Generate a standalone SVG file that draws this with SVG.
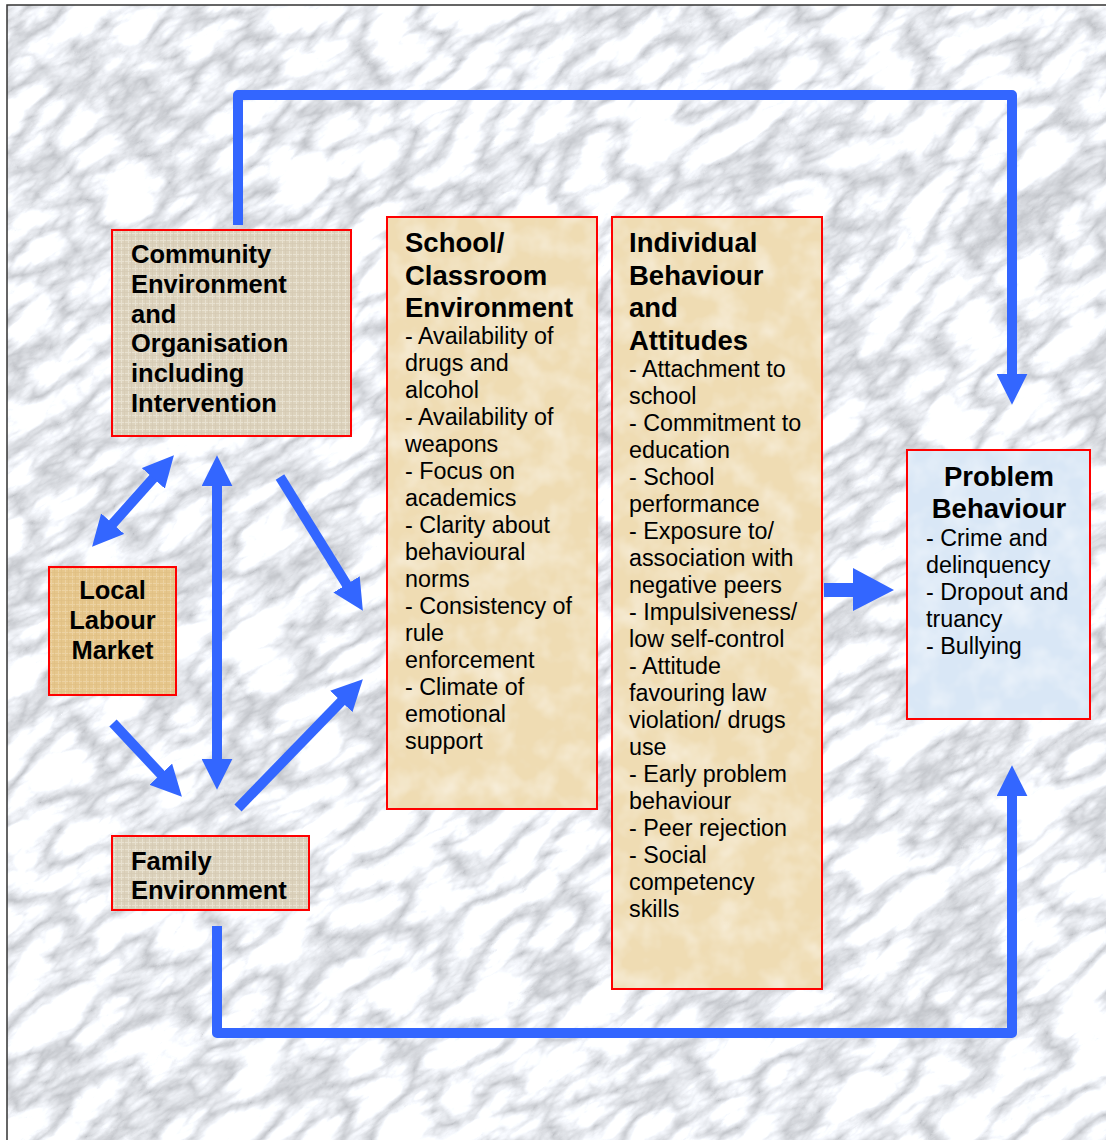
<svg xmlns="http://www.w3.org/2000/svg" width="1106" height="1140" viewBox="0 0 1106 1140">
<style>
  .box { fill: none; stroke: #ff0000; stroke-width: 2; }
  .t { font-family: "Liberation Sans", Arial, sans-serif; fill: #000; }
  .h { font-weight: bold; font-size: 27.5px; }
  .hs { font-weight: bold; font-size: 25.5px; }
  .b { font-size: 23.3px; }
  .conn { fill: none; stroke: #3366ff; stroke-width: 10; stroke-linejoin: round; }
</style>
<defs>
  <clipPath id="frame"><rect x="7" y="5" width="1110" height="1150"/></clipPath>
  <filter id="marble" x="0" y="0" width="100%" height="100%" color-interpolation-filters="sRGB">
    <feTurbulence type="turbulence" baseFrequency="0.013 0.03" numOctaves="5" seed="7" result="t"/>
    <feColorMatrix in="t" type="matrix" values="0.62 0 0 0 0.74  0.62 0 0 0 0.75  0.62 0 0 0 0.77  0 0 0 0 1"/>
  </filter>
  <filter id="paper" x="0" y="0" width="100%" height="100%" color-interpolation-filters="sRGB">
    <feTurbulence type="fractalNoise" baseFrequency="0.035" numOctaves="3" seed="5" result="n"/>
    <feColorMatrix in="n" type="matrix" values="0 0 0 0 1  0 0 0 0 1  0 0 0 0 1  0.9 0 0 0 -0.35" result="w"/>
    <feComposite in="w" in2="SourceGraphic" operator="in" result="wi"/>
    <feMerge><feMergeNode in="SourceGraphic"/><feMergeNode in="wi"/></feMerge>
  </filter>
  <pattern id="linen" width="7" height="7" patternUnits="userSpaceOnUse">
    <rect width="7" height="7" fill="#dcd2bc"/>
    <path d="M0,2.5 H7 M2.5,0 V7" stroke="#e8e1d0" stroke-width="1"/>
    <path d="M0,5.5 H7 M5.5,0 V7" stroke="#d5cab3" stroke-width="0.7"/>
  </pattern>
  <pattern id="linenTan" width="7" height="7" patternUnits="userSpaceOnUse">
    <rect width="7" height="7" fill="#e6c68b"/>
    <path d="M0,2.5 H7 M2.5,0 V7" stroke="#ecd2a2" stroke-width="1"/>
    <path d="M0,5.5 H7 M5.5,0 V7" stroke="#dfbe84" stroke-width="0.7"/>
  </pattern>
  <marker id="ah" viewBox="0 0 10 10" refX="2" refY="5" markerWidth="3.1" markerHeight="3.1" orient="auto-start-reverse">
    <path d="M0,0 L10,5 L0,10 z" fill="#3366ff"/>
  </marker>
</defs>

<rect width="1106" height="1140" fill="#ffffff"/>
<g clip-path="url(#frame)">
  <g transform="rotate(-35 553 570)">
    <rect x="-500" y="-500" width="2100" height="2140" filter="url(#marble)"/>
  </g>
</g>
<rect x="7" y="5" width="1110" height="1150" fill="none" stroke="#333" stroke-width="1.5"/>

<g id="connectors">
  <path class="conn" d="M238,225 V95 H1012 V380" marker-end="url(#ah)"/>
  <path class="conn" d="M217,926 V1033 H1012 V790" marker-end="url(#ah)"/>
  <line class="conn" x1="108.6" y1="528.3" x2="157.4" y2="473.7" marker-start="url(#ah)" marker-end="url(#ah)"/>
  <line class="conn" x1="217" y1="480" x2="217" y2="765" marker-start="url(#ah)" marker-end="url(#ah)"/>
  <line class="conn" x1="280" y1="477" x2="349.8" y2="589.7" marker-end="url(#ah)"/>
  <line class="conn" x1="113" y1="723" x2="165" y2="778.7" marker-end="url(#ah)"/>
  <line class="conn" x1="238" y1="808" x2="345.6" y2="697" marker-end="url(#ah)"/>
  <polygon points="824,583 853,583 853,568 894,590 853,611 853,597 824,597" fill="#3366ff"/>
</g>

<g id="community">
  <rect x="112" y="230" width="239" height="206" fill="url(#linen)"/>
  <rect class="box" x="112" y="230" width="239" height="206"/>
  <text class="t hs" x="131" y="263">Community</text>
  <text class="t hs" x="131" y="293">Environment</text>
  <text class="t hs" x="131" y="322.5">and</text>
  <text class="t hs" x="131" y="352">Organisation</text>
  <text class="t hs" x="131" y="382">including</text>
  <text class="t hs" x="131" y="412">Intervention</text>
</g>

<g id="labour">
  <rect x="49" y="567" width="127" height="128" fill="url(#linenTan)"/>
  <rect class="box" x="49" y="567" width="127" height="128"/>
  <text class="t hs" x="112.5" y="599" text-anchor="middle">Local</text>
  <text class="t hs" x="112.5" y="629" text-anchor="middle">Labour</text>
  <text class="t hs" x="112.5" y="659" text-anchor="middle">Market</text>
</g>

<g id="family">
  <rect x="112" y="836" width="197" height="74" fill="url(#linen)"/>
  <rect class="box" x="112" y="836" width="197" height="74"/>
  <text class="t hs" x="131" y="870">Family</text>
  <text class="t hs" x="131" y="899">Environment</text>
</g>

<g id="school">
  <rect x="387" y="217" width="210" height="592" fill="#efdcb3" filter="url(#paper)"/>
  <rect class="box" x="387" y="217" width="210" height="592"/>
  <text class="t h" x="405" y="252">School/</text>
  <text class="t h" x="405" y="284.5">Classroom</text>
  <text class="t h" x="405" y="317">Environment</text>
  <text class="t b" x="405" y="344">- Availability of</text>
  <text class="t b" x="405" y="371">drugs and</text>
  <text class="t b" x="405" y="398">alcohol</text>
  <text class="t b" x="405" y="425">- Availability of</text>
  <text class="t b" x="405" y="452">weapons</text>
  <text class="t b" x="405" y="479">- Focus on</text>
  <text class="t b" x="405" y="506">academics</text>
  <text class="t b" x="405" y="533">- Clarity about</text>
  <text class="t b" x="405" y="560">behavioural</text>
  <text class="t b" x="405" y="587">norms</text>
  <text class="t b" x="405" y="614">- Consistency of</text>
  <text class="t b" x="405" y="641">rule</text>
  <text class="t b" x="405" y="668">enforcement</text>
  <text class="t b" x="405" y="695">- Climate of</text>
  <text class="t b" x="405" y="722">emotional</text>
  <text class="t b" x="405" y="749">support</text>
</g>

<g id="individual">
  <rect x="612" y="217" width="210" height="772" fill="#efdcb3" filter="url(#paper)"/>
  <rect class="box" x="612" y="217" width="210" height="772"/>
  <text class="t h" x="629" y="252">Individual</text>
  <text class="t h" x="629" y="284.5">Behaviour</text>
  <text class="t h" x="629" y="317">and</text>
  <text class="t h" x="629" y="349.5">Attitudes</text>
  <text class="t b" x="629" y="377">- Attachment to</text>
  <text class="t b" x="629" y="404">school</text>
  <text class="t b" x="629" y="431">- Commitment to</text>
  <text class="t b" x="629" y="458">education</text>
  <text class="t b" x="629" y="485">- School</text>
  <text class="t b" x="629" y="512">performance</text>
  <text class="t b" x="629" y="539">- Exposure to/</text>
  <text class="t b" x="629" y="566">association with</text>
  <text class="t b" x="629" y="593">negative peers</text>
  <text class="t b" x="629" y="620">- Impulsiveness/</text>
  <text class="t b" x="629" y="647">low self-control</text>
  <text class="t b" x="629" y="674">- Attitude</text>
  <text class="t b" x="629" y="701">favouring law</text>
  <text class="t b" x="629" y="728">violation/ drugs</text>
  <text class="t b" x="629" y="755">use</text>
  <text class="t b" x="629" y="782">- Early problem</text>
  <text class="t b" x="629" y="809">behaviour</text>
  <text class="t b" x="629" y="836">- Peer rejection</text>
  <text class="t b" x="629" y="863">- Social</text>
  <text class="t b" x="629" y="890">competency</text>
  <text class="t b" x="629" y="917">skills</text>
</g>

<g id="problem">
  <rect x="907" y="450" width="183" height="269" fill="#d9e7f6" filter="url(#paper)"/>
  <rect class="box" x="907" y="450" width="183" height="269"/>
  <text class="t h" x="999" y="486" text-anchor="middle">Problem</text>
  <text class="t h" x="999" y="518" text-anchor="middle">Behaviour</text>
  <text class="t b" x="926" y="546">- Crime and</text>
  <text class="t b" x="926" y="573">delinquency</text>
  <text class="t b" x="926" y="600">- Dropout and</text>
  <text class="t b" x="926" y="627">truancy</text>
  <text class="t b" x="926" y="654">- Bullying</text>
</g>
</svg>
